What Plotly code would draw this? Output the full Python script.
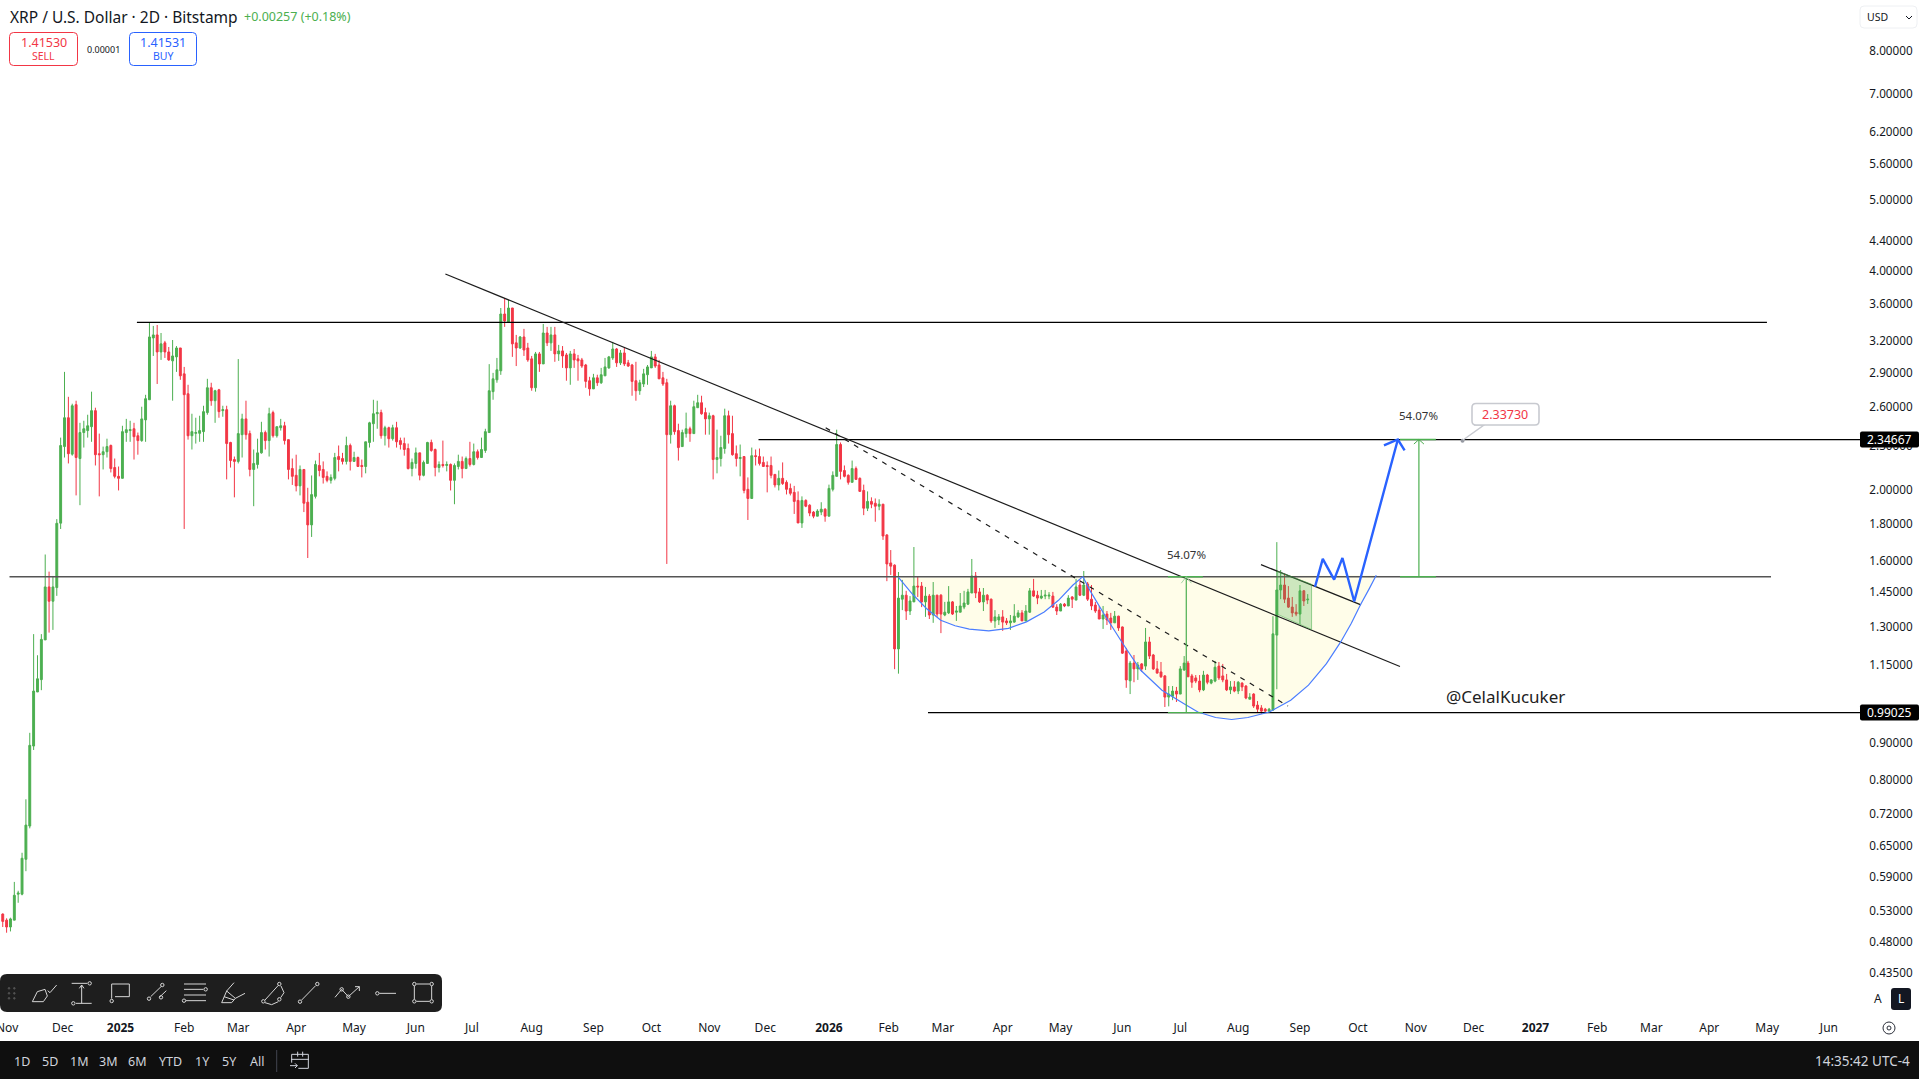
import math
import pandas as pd
import plotly.graph_objects as go

# candles, one every 2 days from 2024-11-01
first_bar = "2024-11-01"

open_ = [
    .524, .514, .503, .514, .558, .558, .623, .692, .891, 1.057,
    1.099, 1.246, 1.473, 1.408, 1.470, 1.802, 2.295, 2.514, 2.241, 2.62,
    2.21, 2.399, 2.414, 2.444, 2.571, 2.244, 2.237, 2.258, 2.303, 2.148,
    2.089, 2.076, 2.399, 2.414, 2.428, 2.375, 2.339, 2.497, 2.661, 3.235,
    3.266, 3.095, 3.185, 3.095, 3.009, 3.047, 3.134, 2.888, 2.712, 2.375,
    2.393, 2.393, 2.406, 2.555, 2.764, 2.653, 2.746, 2.571, 2.579, 2.325,
    2.203, 2.19, 2.383, 2.505, 2.391, 2.135, 2.169, 2.25, 2.399, 2.339,
    2.555, 2.375, 2.436, 2.451, 2.346, 2.141, 2.096, 2.027, 2.135, 1.925,
    1.792, 1.961, 2.162, 2.135, 2.089, 2.063, 2.076, 2.224, 2.21, 2.19,
    2.303, 2.19, 2.217, 2.162, 2.155, 2.325, 2.467, 2.546, 2.555, 2.375,
    2.436, 2.353, 2.436, 2.339, 2.317, 2.281, 2.141, 2.176, 2.25, 2.096,
    2.176, 2.325, 2.274, 2.148, 2.169, 2.162, 2.169, 2.063, 2.155, 2.19,
    2.141, 2.21, 2.169, 2.258, 2.217, 2.267, 2.399, 2.73, 2.834, 2.916,
    3.489, 3.403, 3.556, 3.185, 3.134, 3.245, 3.134, 3.028, 2.764, 3.076,
    2.98, 3.286, 3.185, 3.266, 3.076, 3.105, 3.066, 2.943, 3.076, 3.028,
    3.018, 2.97, 2.826, 2.754, 2.852, 2.808, 2.87, 2.943, 3.037, 3.124,
    2.99, 3.085, 2.99, 2.97, 2.826, 2.738, 2.797, 2.88, 2.943, 3.047,
    2.97, 2.852, 2.808, 2.383, 2.611, 2.414, 2.295, 2.391, 2.428, 2.391,
    2.595, 2.636, 2.555, 2.505, 2.53, 2.203, 2.21, 2.281, 2.53, 2.391,
    2.244, 2.21, 2.224, 2.005, 1.948, 2.23, 2.224, 2.183, 2.162, 2.162,
    2.102, 2.033, 2.076, 2.05, 2.011, 1.986, 1.936, 1.803, 1.936, 1.907,
    1.866, 1.842, 1.866, 1.883, 1.842, 2.005, 2.089, 2.31, 2.128, 2.096,
    2.05, 2.141, 2.076, 1.998, 1.889, 1.93, 1.919, 1.901, 1.913, 1.736,
    1.589, 1.578, 1.211, 1.417, 1.435, 1.365, 1.405, 1.477, 1.477, 1.405,
    1.431, 1.348, 1.435, 1.435, 1.348, 1.357, 1.405, 1.36, 1.36, 1.382,
    1.395, 1.445, 1.525, 1.45, 1.405, 1.435, 1.417, 1.323, 1.327, 1.34,
    1.323, 1.315, 1.318, 1.34, 1.357, 1.323, 1.36, 1.455, 1.435, 1.422,
    1.431, 1.431, 1.431, 1.382, 1.365, 1.395, 1.387, 1.427, 1.413, 1.482,
    1.435, 1.487, 1.417, 1.391, 1.369, 1.331, 1.352, 1.335, 1.315, 1.343,
    1.298, 1.203, 1.095, 1.158, 1.137, 1.155, 1.147, 1.238, 1.188, 1.137,
    1.126, 1.112, 1.04, 1.043, 1.06, 1.05, 1.133, 1.158, 1.112, 1.105,
    1.094, 1.064, 1.115, 1.087, 1.094, 1.147, 1.112, 1.098, 1.064, 1.074,
    1.06, 1.087, 1.077, 1.033, 1.05, 1.014, 1.005, 1.001, .995, .998,
    1.265, 1.459, 1.482, 1.422, 1.382, 1.36, 1.352, 1.455, 1.414,
]
high = [
    .525, .517, .518, .580, .564, .636, .753, .929, 1.269, 1.187,
    1.269, 1.632, 1.546, 1.525, 1.825, 2.361, 2.906, 2.686, 2.628, 2.653,
    2.474, 2.49, 2.538, 2.73, 2.595, 2.391, 2.295, 2.353, 2.31, 2.21,
    2.155, 2.451, 2.505, 2.49, 2.474, 2.399, 2.603, 2.703, 3.40, 3.36,
    3.37, 3.286, 3.205, 3.144, 3.214, 3.153, 3.134, 2.952, 2.79, 2.546,
    2.514, 2.53, 2.611, 2.843, 2.808, 2.746, 2.754, 2.611, 2.611, 2.33,
    2.224, 3.026, 2.546, 2.653, 2.414, 2.274, 2.353, 2.482, 2.414, 2.595,
    2.571, 2.444, 2.505, 2.482, 2.346, 2.21, 2.237, 2.162, 2.135, 2.015,
    2.095, 2.196, 2.25, 2.19, 2.122, 2.102, 2.25, 2.303, 2.25, 2.368,
    2.317, 2.258, 2.224, 2.203, 2.33, 2.482, 2.661, 2.653, 2.579, 2.451,
    2.444, 2.459, 2.482, 2.361, 2.361, 2.317, 2.21, 2.288, 2.25, 2.196,
    2.33, 2.346, 2.281, 2.19, 2.339, 2.19, 2.176, 2.176, 2.237, 2.224,
    2.224, 2.33, 2.317, 2.274, 2.361, 2.428, 2.978, 2.897, 3.037, 3.556,
    3.67, 3.647, 3.556, 3.266, 3.255, 3.329, 3.185, 3.056, 3.095, 3.095,
    3.381, 3.35, 3.35, 3.35, 3.165, 3.153, 3.085, 3.105, 3.124, 3.066,
    3.037, 2.98, 2.861, 2.888, 2.88, 2.943, 3.037, 3.056, 3.195, 3.134,
    3.114, 3.144, 3.018, 2.98, 3.0, 2.834, 2.934, 2.97, 3.105, 3.076,
    3.018, 2.906, 2.843, 2.653, 2.62, 2.467, 2.421, 2.555, 2.444, 2.653,
    2.703, 2.695, 2.595, 2.555, 2.538, 2.421, 2.375, 2.587, 2.571, 2.53,
    2.303, 2.31, 2.224, 2.082, 2.288, 2.274, 2.281, 2.224, 2.19, 2.224,
    2.102, 2.128, 2.183, 2.063, 2.042, 2.027, 1.992, 1.961, 1.943, 1.913,
    1.872, 1.883, 1.925, 1.889, 2.035, 2.122, 2.421, 2.325, 2.162, 2.102,
    2.196, 2.155, 2.082, 2.035, 1.992, 1.955, 1.948, 1.943, 1.915, 1.74,
    1.655, 1.582, 1.544, 1.506, 1.455, 1.431, 1.671, 1.52, 1.496, 1.473,
    1.44, 1.496, 1.437, 1.44, 1.405, 1.477, 1.409, 1.387, 1.445, 1.455,
    1.464, 1.609, 1.544, 1.468, 1.468, 1.44, 1.42, 1.369, 1.352, 1.369,
    1.335, 1.348, 1.395, 1.369, 1.369, 1.391, 1.468, 1.511, 1.455, 1.459,
    1.459, 1.449, 1.45, 1.395, 1.4, 1.4, 1.435, 1.431, 1.511, 1.506,
    1.549, 1.496, 1.482, 1.405, 1.387, 1.387, 1.365, 1.357, 1.365, 1.345,
    1.3, 1.215, 1.166, 1.188, 1.162, 1.158, 1.294, 1.258, 1.192, 1.166,
    1.162, 1.115, 1.077, 1.077, 1.074, 1.147, 1.184, 1.166, 1.119, 1.115,
    1.115, 1.13, 1.119, 1.101, 1.166, 1.162, 1.155, 1.119, 1.094, 1.094,
    1.094, 1.09, 1.08, 1.053, 1.053, 1.027, 1.014, 1.005, 1.005, 1.343,
    1.697, 1.554, 1.535, 1.477, 1.427, 1.395, 1.482, 1.459, 1.44,
]
low = [
    .503, .494, .496, .514, .543, .556, .600, .687, .880, 1.057,
    1.063, 1.246, 1.275, 1.286, 1.432, 1.769, 2.217, 2.176, 2.23, 1.967,
    1.907, 2.288, 2.361, 2.33, 2.162, 1.961, 2.135, 2.217, 2.115, 2.076,
    1.998, 2.076, 2.33, 2.33, 2.203, 2.237, 2.33, 2.33, 2.659, 3.056,
    2.797, 3.018, 3.037, 3.009, 2.653, 2.906, 2.834, 1.769, 2.346, 2.274,
    2.317, 2.33, 2.33, 2.538, 2.611, 2.474, 2.514, 2.522, 2.069, 2.148,
    1.955, 2.176, 2.217, 2.346, 2.089, 1.901, 2.141, 2.244, 2.274, 2.224,
    2.361, 2.361, 2.414, 2.31, 2.069, 2.033, 1.992, 1.967, 1.866, 1.614,
    1.725, 1.948, 2.089, 2.042, 2.05, 2.042, 2.063, 2.122, 2.169, 2.169,
    2.128, 2.19, 2.155, 2.082, 2.109, 2.288, 2.33, 2.428, 2.353, 2.303,
    2.288, 2.339, 2.288, 2.274, 2.23, 2.135, 2.089, 2.141, 2.063, 2.089,
    2.176, 2.258, 2.089, 2.115, 2.148, 2.122, 1.998, 1.913, 2.135, 2.076,
    2.141, 2.155, 2.162, 2.203, 2.217, 2.25, 2.399, 2.661, 2.808, 2.879,
    3.35, 3.392, 3.047, 2.96, 3.124, 3.056, 3.0, 2.738, 2.73, 2.906,
    2.98, 3.153, 3.105, 3.0, 3.009, 2.943, 2.826, 2.79, 2.943, 2.826,
    2.943, 2.764, 2.695, 2.754, 2.78, 2.797, 2.87, 2.934, 3.018, 2.952,
    2.97, 2.96, 2.952, 2.695, 2.653, 2.703, 2.77, 2.79, 2.943, 2.943,
    2.843, 2.78, 1.584, 2.317, 2.383, 2.196, 2.295, 2.361, 2.33, 2.391,
    2.595, 2.538, 2.383, 2.383, 2.069, 2.109, 2.155, 2.244, 2.317, 2.23,
    2.155, 2.089, 1.98, 1.82, 1.948, 2.162, 2.162, 2.155, 1.986, 2.076,
    2.017, 1.998, 2.033, 1.973, 1.967, 1.855, 1.803, 1.775, 1.895, 1.842,
    1.83, 1.842, 1.848, 1.81, 1.842, 1.992, 2.089, 2.069, 2.082, 2.035,
    2.05, 2.069, 1.992, 1.848, 1.872, 1.889, 1.81, 1.877, 1.709, 1.5,
    1.53, 1.136, 1.12, 1.369, 1.327, 1.348, 1.405, 1.427, 1.382, 1.34,
    1.331, 1.315, 1.34, 1.273, 1.343, 1.352, 1.348, 1.323, 1.36, 1.373,
    1.391, 1.445, 1.422, 1.4, 1.365, 1.395, 1.315, 1.294, 1.306, 1.282,
    1.306, 1.286, 1.315, 1.335, 1.323, 1.323, 1.357, 1.427, 1.395, 1.417,
    1.417, 1.417, 1.378, 1.348, 1.365, 1.382, 1.387, 1.378, 1.413, 1.431,
    1.431, 1.409, 1.369, 1.357, 1.331, 1.29, 1.306, 1.286, 1.315, 1.282,
    1.192, 1.071, 1.05, 1.09, 1.098, 1.126, 1.133, 1.173, 1.133, 1.12,
    1.105, 1.008, 1.01, 1.03, 1.024, 1.05, 1.13, 1.109, 1.071, 1.087,
    1.056, 1.06, 1.083, 1.083, 1.09, 1.098, 1.09, 1.06, 1.05, 1.056,
    1.05, 1.06, 1.033, 1.033, 1.005, .992, .986, .992, .992, .998,
    1.066, 1.417, 1.4, 1.378, 1.34, 1.343, 1.31, 1.387, 1.396,
]
close = [
    .512, .503, .516, .556, .560, .625, .694, .893, 1.060, 1.102,
    1.248, 1.473, 1.408, 1.473, 1.801, 2.303, 2.514, 2.244, 2.611, 2.217,
    2.399, 2.428, 2.451, 2.571, 2.237, 2.237, 2.258, 2.295, 2.141, 2.089,
    2.076, 2.406, 2.421, 2.421, 2.368, 2.339, 2.505, 2.67, 3.245, 3.266,
    3.095, 3.175, 3.095, 3.018, 3.056, 3.134, 2.87, 2.704, 2.375, 2.406,
    2.399, 2.414, 2.563, 2.764, 2.653, 2.738, 2.563, 2.579, 2.317, 2.196,
    2.19, 2.391, 2.505, 2.383, 2.135, 2.176, 2.25, 2.399, 2.339, 2.546,
    2.375, 2.444, 2.451, 2.339, 2.135, 2.089, 2.027, 2.135, 1.919, 1.792,
    1.972, 2.169, 2.128, 2.082, 2.063, 2.082, 2.217, 2.203, 2.19, 2.303,
    2.19, 2.217, 2.155, 2.155, 2.33, 2.474, 2.546, 2.555, 2.375, 2.436,
    2.353, 2.436, 2.33, 2.31, 2.274, 2.141, 2.183, 2.25, 2.096, 2.183,
    2.325, 2.267, 2.148, 2.169, 2.162, 2.169, 2.063, 2.162, 2.19, 2.141,
    2.21, 2.169, 2.258, 2.217, 2.274, 2.406, 2.738, 2.843, 2.925, 3.489,
    3.413, 3.556, 3.175, 3.134, 3.245, 3.114, 3.018, 2.764, 3.076, 2.98,
    3.286, 3.185, 3.266, 3.076, 3.105, 3.056, 2.943, 3.076, 3.018, 3.009,
    2.96, 2.82, 2.754, 2.852, 2.808, 2.88, 2.952, 3.047, 3.124, 2.99,
    3.085, 2.98, 2.96, 2.82, 2.738, 2.808, 2.888, 2.952, 3.047, 2.96,
    2.843, 2.797, 2.383, 2.611, 2.406, 2.288, 2.399, 2.428, 2.391, 2.603,
    2.636, 2.546, 2.505, 2.53, 2.203, 2.217, 2.288, 2.53, 2.383, 2.237,
    2.21, 2.217, 1.998, 1.948, 2.23, 2.224, 2.176, 2.155, 2.155, 2.096,
    2.033, 2.076, 2.042, 2.005, 1.98, 1.93, 1.803, 1.936, 1.901, 1.86,
    1.842, 1.872, 1.883, 1.842, 2.011, 2.096, 2.31, 2.122, 2.089, 2.05,
    2.141, 2.069, 1.992, 1.889, 1.93, 1.913, 1.901, 1.913, 1.73, 1.584,
    1.573, 1.211, 1.422, 1.435, 1.365, 1.409, 1.477, 1.473, 1.405, 1.431,
    1.348, 1.435, 1.352, 1.352, 1.36, 1.405, 1.352, 1.365, 1.387, 1.4,
    1.45, 1.525, 1.445, 1.405, 1.435, 1.413, 1.323, 1.34, 1.34, 1.318,
    1.315, 1.323, 1.343, 1.357, 1.323, 1.365, 1.455, 1.431, 1.422, 1.431,
    1.435, 1.435, 1.382, 1.365, 1.395, 1.387, 1.422, 1.417, 1.473, 1.435,
    1.482, 1.417, 1.387, 1.365, 1.331, 1.348, 1.327, 1.315, 1.343, 1.294,
    1.195, 1.098, 1.158, 1.137, 1.151, 1.137, 1.238, 1.184, 1.137, 1.122,
    1.109, 1.04, 1.05, 1.06, 1.05, 1.137, 1.158, 1.109, 1.09, 1.094,
    1.064, 1.115, 1.09, 1.098, 1.143, 1.105, 1.098, 1.064, 1.074, 1.06,
    1.09, 1.074, 1.037, 1.04, 1.011, 1.001, .995, .995, 1.001, 1.27,
    1.459, 1.482, 1.417, 1.382, 1.357, 1.352, 1.455, 1.409, 1.417,
]

# axis labels
price_ticks = [8, 7, 6.2, 5.6, 5, 4.4, 4, 3.6, 3.2, 2.9, 2.6, 2.3, 2, 1.8, 1.6, 1.45,
               1.3, 1.15, .9, .8, .72, .65, .59, .53, .48, .435]
tick_dates = ["2024-12-02", "2025-01-01", "2025-02-03", "2025-03-03", "2025-04-02",
              "2025-05-02", "2025-06-03", "2025-07-02", "2025-08-02", "2025-09-03", "2025-10-03",
              "2025-11-02", "2025-12-01", "2026-01-03", "2026-02-03", "2026-03-03", "2026-04-03",
              "2026-05-03", "2026-06-04", "2026-07-04", "2026-08-03", "2026-09-04", "2026-10-04",
              "2026-11-03", "2026-12-03", "2027-01-04", "2027-02-05", "2027-03-05", "2027-04-04",
              "2027-05-04", "2027-06-05"]
tick_labels = ["Dec", "<b>2025</b>", "Feb", "Mar", "Apr", "May", "Jun", "Jul", "Aug", "Sep", "Oct",
               "Nov", "Dec", "<b>2026</b>", "Feb", "Mar", "Apr", "May", "Jun", "Jul", "Aug", "Sep", "Oct",
               "Nov", "Dec", "<b>2027</b>", "Feb", "Mar", "Apr", "May", "Jun"]

# drawings: days counted from first_bar, prices
level_top = 3.399
level_mid = 2.34667
level_neck = 1.521
level_low = 0.99025
target_label = 2.3373

trend_days = [229.3, 723.8]
trend_prices = [3.960, 1.1456]
upper_days = [651.8, 703.6]
upper_prices = [1.5805, 1.3916]
dash_days = [426.3, 665.8]
dash_prices = [2.4354, 1.0108]

cup1_days = [464.0, 471.0, 478.5, 485.9, 493.3, 500.7, 510.8, 521.0, 530.3, 539.5, 546.9, 554.3, 559.5]
cup1_prices = [1.518, 1.442, 1.376, 1.326, 1.303, 1.289, 1.282, 1.292, 1.319, 1.361, 1.412, 1.481, 1.522]
cup2_days = [559.5, 563.6, 570.9, 580.2, 589.5, 600.5, 611.7, 619.1, 628.3, 636.6, 645.0, 656.1, 667.2,
             676.4, 685.7, 693.1, 698.6, 703.2, 707.9, 711.5]
cup2_prices = [1.522, 1.450, 1.347, 1.232, 1.132, 1.063, 1.019, .992, .975, .969, .975, .992, 1.030,
               1.080, 1.156, 1.238, 1.313, 1.390, 1.465, 1.528]

flag_days = [660.4, 678.0, 678.0, 660.4]
flag_prices = [1.5472, 1.4857, 1.2877, 1.3507]

path_days = [679.8, 683.8, 689.7, 694.0, 700.1, 722.7]
path_prices = [1.4737, 1.6092, 1.5073, 1.6143, 1.4070, 2.347]
head_days = [715.5, 722.7, 726.2]
head_prices = [2.3036, 2.347, 2.2674]

GREEN = "#4CAF50"
RED = "#F23645"
BLUE = "#2962FF"
TEXT = "#131722"
PLOT_W = 1860
PLOT_H = 1016
FONT = "Noto Sans"


def day(d):
    return pd.Timestamp(first_bar) + pd.Timedelta(days=d)


def days(ds):
    return [day(d).strftime("%Y-%m-%d %H:%M") for d in ds]


def X(px):
    return px / PLOT_W


def Y(py):
    return 1 - py / PLOT_H


fig = go.Figure()

bar_dates = days([2 * i for i in range(len(close))])
fig.add_trace(go.Candlestick(
    x=bar_dates, open=open_, high=high, low=low, close=close,
    increasing=dict(line=dict(color=GREEN, width=1), fillcolor=GREEN),
    decreasing=dict(line=dict(color=RED, width=1), fillcolor=RED),
    whiskerwidth=0, showlegend=False, hoverinfo="skip",
))


def line(ds, ps, color="#000000", width=1.2, dash="solid", fill=None, fillcolor=None):
    fig.add_trace(go.Scatter(x=days(ds), y=ps, mode="lines", showlegend=False, hoverinfo="skip",
                             line=dict(color=color, width=width, dash=dash),
                             fill=fill, fillcolor=fillcolor))


line([69.5, 913.9], [level_top, level_top])
line([391.5, 962.2], [level_mid, level_mid])
line([3.5, 916], [level_neck, level_neck], color="#555555", width=1.6)
line([479.3, 962.2], [level_low, level_low])
line(trend_days, trend_prices, color="#1c1c1c")
line(upper_days, upper_prices, color="#1c1c1c")
line(dash_days, dash_prices, color="#1c1c1c", dash="5px,6px")

line(cup1_days, cup1_prices, color="#4a7dff", width=1.2)
line(cup2_days, cup2_prices, color="#4a7dff", width=1.2)

line(flag_days + flag_days[:1], flag_prices + flag_prices[:1], color="rgba(76,175,80,0.55)", width=1,
     fill="toself", fillcolor="rgba(76,175,80,0.28)")

# the two measuring tools
line([613.1, 613.1], [level_neck, level_low], color=GREEN, width=1.2)
line([603.6, 621.7], [level_neck, level_neck], color=GREEN, width=1.4)
line([603.6, 621.7], [level_low, level_low], color=GREEN, width=1.4)
line([610.5, 613.1, 615.7], [1.4905, level_neck, 1.4905], color="#a5d6a7", width=1)
line([733.6, 733.6], [level_neck, level_mid], color=GREEN, width=1.2)
line([723.8, 742.4], [level_neck, level_neck], color=GREEN, width=1.4)
line([723.8, 742.4], [level_mid, level_mid], color=GREEN, width=1.4)
line([731, 733.6, 736.2], [2.3134, level_mid, 2.3134], color=GREEN, width=1)

line(path_days, path_prices, color=BLUE, width=2.4)
line(head_days, head_prices, color=BLUE, width=2.4)

fig.add_trace(go.Scatter(x=days([756.2]), y=[target_label], mode="markers", showlegend=False, hoverinfo="skip",
                         marker=dict(size=4, color="#9598A1")))


def data_path(ds, ps):
    pts = [f"{day(d).strftime('%Y-%m-%d_%H:%M')},{p}" for d, p in zip(ds, ps)]
    return "M " + " L ".join(pts) + " Z"


shapes = []
for ds, ps in ((cup1_days, cup1_prices), (cup2_days, cup2_prices)):
    shapes.append(dict(type="path", path=data_path(ds, ps), xref="x", yref="y", layer="below",
                       fillcolor="#FFFDE9", line=dict(width=0)))


def rect(x0, y0, x1, y1, fill=None, border=None, width=1, layer="above"):
    shapes.append(dict(type="rect", xref="paper", yref="paper", x0=X(x0), y0=Y(y0), x1=X(x1), y1=Y(y1),
                       fillcolor=fill or "rgba(0,0,0,0)", layer=layer,
                       line=dict(color=border or "rgba(0,0,0,0)", width=width if border else 0)))


def round_box(x0, y0, x1, y1, r, fill=None, border=None, width=1):
    p = (f"M {X(x0 + r)},{Y(y0)} L {X(x1 - r)},{Y(y0)} Q {X(x1)},{Y(y0)} {X(x1)},{Y(y0 + r)} "
         f"L {X(x1)},{Y(y1 - r)} Q {X(x1)},{Y(y1)} {X(x1 - r)},{Y(y1)} L {X(x0 + r)},{Y(y1)} "
         f"Q {X(x0)},{Y(y1)} {X(x0)},{Y(y1 - r)} L {X(x0)},{Y(y0 + r)} Q {X(x0)},{Y(y0)} {X(x0 + r)},{Y(y0)} Z")
    shapes.append(dict(type="path", path=p, xref="paper", yref="paper", layer="above",
                       fillcolor=fill or "rgba(0,0,0,0)",
                       line=dict(color=border or "rgba(0,0,0,0)", width=width if border else 0)))


def stroke(points, color="#D6D6D6", width=1):
    p = "M " + " L ".join(f"{X(x)},{Y(y)}" for x, y in points)
    shapes.append(dict(type="path", path=p, xref="paper", yref="paper", layer="above",
                       line=dict(color=color, width=width)))


def dot(cx, cy, r=1.7, color="#D6D6D6", fill=None):
    shapes.append(dict(type="circle", xref="paper", yref="paper", layer="above",
                       x0=X(cx - r), x1=X(cx + r), y0=Y(cy - r), y1=Y(cy + r),
                       fillcolor=fill or "rgba(0,0,0,0)", line=dict(color=color, width=1)))


annotations = []


def text(px, py, s, size=12, color=TEXT, anchor="center"):
    annotations.append(dict(xref="paper", yref="paper", x=X(px), y=Y(py), text=s, showarrow=False,
                            xanchor=anchor, yanchor="middle", borderpad=0,
                            font=dict(family=FONT, size=size, color=color)))


# header
text(9, 17, "XRP / U.S. Dollar · 2D · Bitstamp", 15.5, TEXT, "left")
text(242.5, 17, "+0.00257 (+0.18%)", 12.5, GREEN, "left")
round_box(9.5, 32.5, 77.5, 65.5, 4, fill="#ffffff", border=RED)
text(43.5, 42, "1.41530", 12.5, RED)
text(43.5, 56, "SELL", 10.5, RED)
text(103, 49, "0.00001", 9, TEXT)
round_box(129.5, 32.5, 196.5, 65.5, 4, fill="#ffffff", border=BLUE)
text(163, 42, "1.41531", 12.5, BLUE)
text(163, 56, "BUY", 10.5, BLUE)

# top right currency button
round_box(1860, 6, 1917, 28, 4, fill="#ffffff", border="#EEF0F3")
text(1866, 17, "USD", 10.5, TEXT, "left")
stroke([(1906, 16), (1909, 19), (1912, 16)], color=TEXT)

# price boxes on the axis
round_box(1860, 431.5, 1919, 447.5, 2, fill="#000000")
text(1889, 439.5, "2.34667", 12, "#ffffff")
round_box(1860, 704.5, 1919, 720.5, 2, fill="#000000")
text(1889, 712.5, "0.99025", 12, "#ffffff")

# first month label, cut by the left edge
text(7.3, 1027, "Nov", 12, TEXT)

# texts on the chart
annotations.append(dict(x=days([613.1])[0], y=math.log10(1.632), text="54.07%", showarrow=False,
                        font=dict(family=FONT, size=11.5, color="#333333"), yanchor="middle"))
annotations.append(dict(x=days([733.6])[0], y=math.log10(2.535), text="54.07%", showarrow=False,
                        font=dict(family=FONT, size=11.5, color="#333333"), yanchor="middle"))
text(1505, 696, "@CelalKucuker", 17, "#222222")

# callout for the target
stroke([(1463, 440), (1484, 425), (1474, 425)], color="#C8CAD0", width=1.5)
round_box(1472, 403.5, 1539, 425, 4, fill="#ffffff", border="#C8CAD0", width=1.6)
text(1504.5, 414.5, "2.33730", 12.5, RED)


def z(x, y):
    # toolbar icons were measured on a 3x crop that starts at y=960
    return (x / 3, 960 + y / 3)


# drawing toolbar
round_box(0, 974, 442, 1012, 7, fill="#1E1E1E")
for gx in (27, 43):
    for gy in (85, 100, 115):
        dot(*z(gx, gy), r=0.8, color="#555555", fill="#555555")
stroke([z(97, 125), z(112, 95), z(135, 88), z(142, 108), z(130, 125), z(97, 125)])
stroke([z(143, 92), z(150, 98), z(170, 75)])
stroke([z(215, 70), z(262, 70)])
dot(*z(269, 70))
stroke([z(245, 75), z(245, 130)])
stroke([z(238, 85), z(245, 75), z(252, 85)])
stroke([z(228, 130), z(275, 130)])
dot(*z(220, 130))
stroke([z(335, 116), z(335, 72), z(388, 72), z(388, 110), z(345, 110)])
dot(*z(335, 123))
stroke([z(452, 110), z(483, 80)])
dot(*z(487, 75))
dot(*z(447, 116))
stroke([z(478, 112), z(499, 92)])
dot(*z(483, 112))
stroke([z(552, 72), z(618, 72)])
stroke([z(552, 88), z(610, 88)])
dot(*z(617, 88))
stroke([z(552, 105), z(618, 105)])
stroke([z(558, 122), z(618, 122)])
dot(*z(552, 122))
stroke([z(702, 68), z(680, 93), z(706, 115), z(735, 100)])
stroke([z(680, 93), z(665, 128), z(695, 128), z(706, 115)])
stroke([z(672, 110), z(702, 120)])
dot(*z(790, 124))
dot(*z(838, 118))
dot(*z(838, 72))
stroke([z(795, 120), z(835, 76)])
stroke([z(843, 78), z(852, 98), z(842, 113)])
stroke([z(795, 128), z(815, 134), z(835, 125)])
dot(*z(900, 125))
dot(*z(952, 72))
stroke([z(905, 120), z(947, 77)])
stroke([z(1005, 112), z(1025, 88), z(1045, 110), z(1078, 80)])
stroke([z(1065, 80), z(1078, 80), z(1078, 93)])
dot(*z(1025, 88))
dot(*z(1045, 110))
dot(*z(1132, 100))
stroke([z(1138, 100), z(1188, 100)])
for cx, cy in ((1243, 72), (1295, 72), (1243, 124), (1295, 124)):
    dot(*z(cx, cy))
stroke([z(1249, 72), z(1289, 72)])
stroke([z(1249, 124), z(1289, 124)])
stroke([z(1243, 78), z(1243, 118)])
stroke([z(1295, 78), z(1295, 118)])

# auto / log buttons and the gear
text(1878, 998, "A", 12, TEXT)
round_box(1891, 988, 1911, 1010, 3, fill="#131722")
text(1901, 998, "L", 12, "#ffffff")
dot(1889, 1028, r=6, color="#2A2E39")
dot(1889, 1028, r=2, color="#2A2E39")

# bottom bar
rect(0, 1041, 1919, 1079, fill="#0F0F0F")
for bx, lab in zip((22.3, 50, 79.3, 108.3, 137.3, 170, 202.7, 229.3, 257.3),
                   ("1D", "5D", "1M", "3M", "6M", "YTD", "1Y", "5Y", "All")):
    text(bx, 1061, lab, 12.5, "#D1D4DC")
stroke([(276.7, 1050), (276.7, 1072)], color="#434651")
stroke([z(875, 308), z(875, 283), z(925, 283), z(925, 325), z(895, 325)], color="#D1D4DC")
stroke([z(873, 298), z(927, 298)], color="#D1D4DC")
stroke([z(893, 275), z(893, 290)], color="#D1D4DC")
stroke([z(908, 275), z(908, 290)], color="#D1D4DC")
stroke([z(870, 317), z(892, 317)], color="#D1D4DC")
stroke([z(885, 310), z(892, 317), z(885, 324)], color="#D1D4DC")
text(1911, 1061, "14:35:42 UTC-4", 13.5, "#D1D4DC", "right")

fig.update_layout(
    width=1919, height=1079,
    margin=dict(l=0, r=1919 - PLOT_W, t=0, b=1079 - PLOT_H, pad=0),
    paper_bgcolor="#ffffff", plot_bgcolor="#ffffff",
    showlegend=False, shapes=shapes, annotations=annotations,
    font=dict(family=FONT, color=TEXT),
    hovermode=False,
    xaxis=dict(
        range=[day(-1.42).strftime("%Y-%m-%d %H:%M"), day(962.1).strftime("%Y-%m-%d %H:%M")],
        type="date", rangeslider=dict(visible=False), showgrid=False, zeroline=False, showline=False,
        tickmode="array", tickvals=tick_dates, ticktext=tick_labels, tickangle=0,
        ticks="outside", ticklen=1, tickcolor="rgba(0,0,0,0)", tickfont=dict(family=FONT, size=12, color=TEXT),
    ),
    yaxis=dict(
        type="log", side="right", range=[math.log10(0.3797), math.log10(9.41)],
        showgrid=False, zeroline=False, showline=False,
        tickmode="array", tickvals=price_ticks, ticktext=[f"{p:.5f}" for p in price_ticks],
        ticks="outside", ticklen=6, tickcolor="rgba(0,0,0,0)", tickfont=dict(family=FONT, size=11.7, color=TEXT),
    ),
)

fig.write_html("out.html", config=dict(displayModeBar=False),
               post_script="document.body.style.margin='0';document.body.style.overflow='hidden';")
